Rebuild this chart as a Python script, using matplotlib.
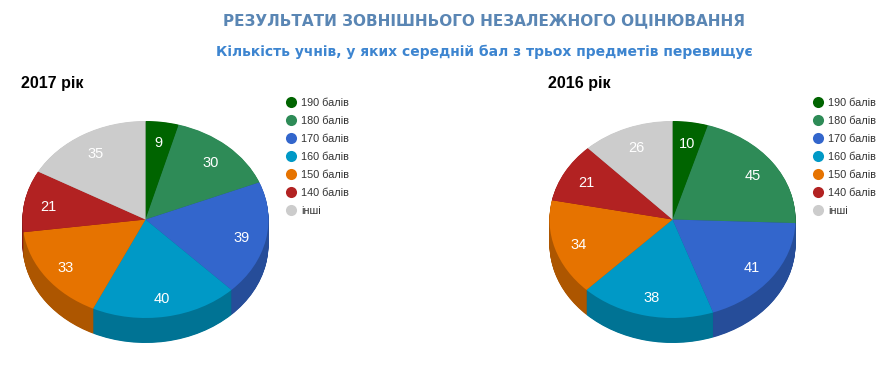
import matplotlib
matplotlib.use("Agg")
import matplotlib.pyplot as plt
from matplotlib.lines import Line2D

W, H = 887, 384
categories = ["190 балів", "180 балів", "170 балів", "160 балів", "150 балів", "140 балів", "інші"]
values_2017 = [9, 30, 39, 40, 33, 21, 35]
values_2016 = [10, 45, 41, 38, 34, 21, 26]
colors = ["#006400", "#2e8b57", "#3366cc", "#0099c6", "#e67300", "#b22222", "#cccccc"]
dark = ["#004b00", "#226841", "#264d99", "#007394", "#ad5600", "#851a1a", "#999999"]

RX, RY, DEPTH = 123, 98.5, 25  # pixels


def draw_pie(cx, cy, values):
    ax = fig.add_axes([(cx - RX) / W, 1 - (cy + RY + DEPTH) / H,
                       2 * RX / W, (2 * RY + DEPTH) / H])
    # side wall: stacked dark pies
    for i in range(DEPTH * 2, 0, -1):
        ax.pie(values, colors=dark, startangle=90, counterclock=False,
               center=(0, -i / 2 / RY), wedgeprops={"linewidth": 0})
    ax.pie(values, colors=colors, startangle=90, counterclock=False,
           labels=values, labeldistance=0.8, wedgeprops={"linewidth": 0},
           textprops={"color": "white", "fontsize": 10.5, "family": "Liberation Sans"})
    for t in ax.texts:
        t.set_ha("center")
        t.set_va("center")
        t.set_y(t.get_position()[1] - 2 / RY)
    ax.set_aspect("auto")
    ax.set_xlim(-1, 1)
    ax.set_ylim(-1 - DEPTH / RY, 1)
    ax.axis("off")


def draw_legend(x, y):
    handles = [Line2D([], [], linestyle="none", marker="o", markersize=8,
                      markerfacecolor=c, markeredgewidth=0) for c in colors]
    fig.legend(handles, categories, loc="upper left",
               bbox_to_anchor=(x / W, 1 - y / H), frameon=False, borderpad=0,
               borderaxespad=0, handlelength=1.0, handletextpad=0.4,
               labelspacing=0.75, prop={"family": "Liberation Sans", "size": 7.8},
               labelcolor="#333333")


fig = plt.figure(figsize=(W / 100, H / 100), dpi=100, facecolor="white")

draw_pie(145.5, 219.5, values_2017)
draw_pie(672.5, 219.5, values_2016)
draw_legend(286, 97.5)
draw_legend(813, 97.5)

fig.text(484.5 / W, 1 - 21 / H, "РЕЗУЛЬТАТИ ЗОВНІШНЬОГО НЕЗАЛЕЖНОГО ОЦІНЮВАННЯ",
         ha="center", va="center", fontsize=11, fontweight="bold",
         family="DejaVu Sans", color="#5a86b4")
fig.text(484.5 / W, 1 - 52 / H, "Кількість учнів, у яких середній бал з трьох предметів перевищує",
         ha="center", va="center", fontsize=10, fontweight="bold",
         family="DejaVu Sans", color="#3d85d0")
fig.text(21 / W, 1 - 88 / H, "2017 рік", ha="left", va="baseline", fontsize=11.5,
         fontweight="bold", family="Liberation Sans", color="black")
fig.text(548 / W, 1 - 88 / H, "2016 рік", ha="left", va="baseline", fontsize=11.5,
         fontweight="bold", family="Liberation Sans", color="black")

fig.savefig("out.png", dpi=100)
